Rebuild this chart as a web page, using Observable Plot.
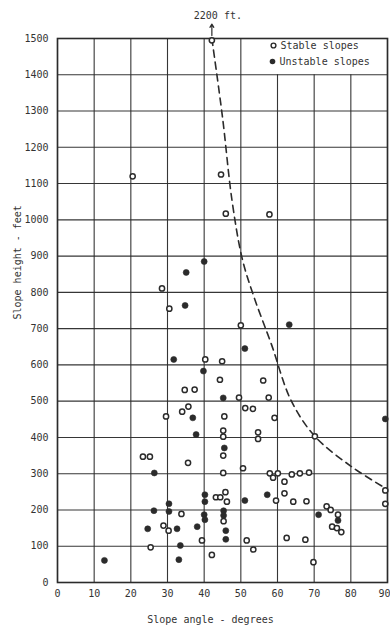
<!DOCTYPE html>
<html>
<head>
<meta charset="utf-8">
<script src="https://cdn.jsdelivr.net/npm/d3@7"></script>
<script src="https://cdn.jsdelivr.net/npm/@observablehq/plot@0.6"></script>
<style>
  html, body { margin: 0; padding: 0; background: #fff; overflow: hidden; }
  #chart svg { display: block; }
</style>
</head>
<body>
<div id="chart"></div>
<script>
// ---- data ----
const xTicks = [0, 10, 20, 30, 40, 50, 60, 70, 80, 90];
const yTicks = [0, 100, 200, 300, 400, 500, 600, 700, 800, 900, 1000, 1100, 1200, 1300, 1400, 1500];

const stableAngle = [20.5,42.1,44.6,45.9,57.8,28.5,30.5,50.0,40.3,44.9,44.3,56.1,34.7,37.4,49.5,57.6,51.2,53.3,59.2,54.7,54.7,70.2,29.6,34.0,35.7,45.5,45.2,45.2,23.3,25.2,35.6,25.4,28.9,30.3,33.8,45.2,45.2,50.6,43.2,44.4,45.8,46.2,45.3,39.4,42.1,51.6,53.4,57.9,58.8,60.1,63.9,66.1,68.6,61.9,59.6,61.9,64.3,67.9,73.4,74.5,76.5,74.9,76.2,77.4,62.5,67.6,69.8,89.4,89.4];
const stableHeight = [1120,1495,1125,1017,1015,811,755,709,615,610,559,557,531,532,510,510,481,479,454,414,396,403,458,471,485,458,419,402,347,347,330,97,157,143,189,350,302,315,235,235,249,223,169,116,76,116,91,301,289,301,298,301,303,278,226,246,223,224,210,200,187,154,150,139,123,118,56,254,217];

const unstableAngle = [40.0,35.1,34.8,63.2,51.1,31.7,39.8,45.2,36.9,37.8,45.5,89.4,26.4,26.3,24.6,12.8,30.4,30.4,32.6,33.5,33.1,38.1,40.2,40.2,51.1,40.0,40.2,45.3,45.3,45.9,45.9,57.2,71.2,76.5];
const unstableHeight = [885,855,764,711,645,615,583,509,454,408,371,451,302,198,148,61,217,196,148,102,63,154,242,223,226,187,173,198,185,143,119,242,187,171];

const curveAngle = [42.1,45.0,47.6,50.4,53.6,58.3,63.7,70.2,80.4,89.6];
const curveHeight = [1500,1283,1053,892,787,658,502,403,318,259];

const legendLabels = ["Stable slopes", "Unstable slopes"];
const xTitle = "Slope angle - degrees";
const yTitle = "Slope height - feet";
const noteLabel = "2200 ft.";
const noteAngle = 42.1;

// ---- build tables ----
const stable = stableAngle.map((a, i) => ({angle: a, height: stableHeight[i]}));
const unstable = unstableAngle.map((a, i) => ({angle: a, height: unstableHeight[i]}));
const curve = curveAngle.map((a, i) => ({angle: a, height: curveHeight[i]}));
const yMax = yTicks[yTicks.length - 1];
const yCell = yTicks[yTicks.length - 2];
const ink = "#2b2b2b";
const font = "'DejaVu Sans Mono', monospace";

// vertical grid lines: the ones right of 50° stop below the legend cell
const vGrid = xTicks.map(t => ({t, top: t > 50 && t < 90 ? yCell : yMax}));
const xTicksMain = xTicks.slice(0, -1);
const xTickLast = xTicks.slice(-1);

const chart = Plot.plot({
  width: 390,
  height: 633,
  marginLeft: 57,
  marginRight: 3,
  marginTop: 38,
  marginBottom: 51,
  x: {domain: [0, 90], label: null},
  y: {domain: [0, yMax], label: null},
  style: {fontFamily: font, fontSize: "10px", color: "#333", background: "#fff", overflow: "visible"},
  marks: [
    Plot.ruleX(vGrid, {x: "t", y1: 0, y2: "top", stroke: ink, strokeOpacity: 0.95, strokeWidth: 1.1}),
    Plot.gridY(yTicks, {stroke: ink, strokeOpacity: 0.95, strokeWidth: 1.1}),
    Plot.frame({stroke: ink, strokeWidth: 1.6}),
    Plot.axisX(xTicksMain, {tickSize: 0, tickPadding: 7, tickFormat: d => String(d), fontSize: 10}),
    Plot.axisX(xTickLast, {tickSize: 0, tickPadding: 7, tickFormat: d => String(d), fontSize: 10, dx: -3}),
    Plot.axisY(yTicks, {tickSize: 0, tickPadding: 9, tickFormat: d => String(d), fontSize: 10}),
    Plot.line(curve, {x: "angle", y: "height", stroke: ink, strokeWidth: 1.6, strokeDasharray: "7,5", curve: "catmull-rom"}),
    Plot.dot(stable, {x: "angle", y: "height", r: 2.6, stroke: ink, strokeWidth: 1.5, fill: "#fff"}),
    Plot.dot(unstable, {x: "angle", y: "height", r: 3, fill: ink, stroke: ink, strokeWidth: 0.6}),
    // legend
    Plot.dot([legendLabels[0]], {frameAnchor: "top-left", dx: 216, dy: 7, r: 2.4, stroke: ink, strokeWidth: 1.4, fill: "#fff"}),
    Plot.dot([legendLabels[1]], {frameAnchor: "top-left", dx: 215, dy: 23, r: 2.8, fill: ink}),
    Plot.text([legendLabels[0]], {frameAnchor: "top-left", text: d => d, dx: 223, dy: 7, textAnchor: "start", lineAnchor: "middle", fontSize: 10, fill: "#333"}),
    Plot.text([legendLabels[1]], {frameAnchor: "top-left", text: d => d, dx: 222, dy: 23, textAnchor: "start", lineAnchor: "middle", fontSize: 10, fill: "#333"}),
    // 2200 ft note
    Plot.arrow([noteLabel], {x1: () => noteAngle, x2: () => noteAngle, y1: () => yMax + 8, y2: () => yMax + 40, stroke: ink, strokeWidth: 1.2, headLength: 5}),
    Plot.text([noteLabel], {x: () => noteAngle, y: () => yMax, text: d => d, dy: -23, dx: 6, fontSize: 10, fill: "#333"}),
    // axis titles
    Plot.text([xTitle], {frameAnchor: "bottom", text: d => d, dx: -12, dy: 40, fontSize: 10, fill: "#333"}),
    Plot.text([yTitle], {frameAnchor: "left", text: d => d, rotate: -90, dx: -40, dy: 9, fontSize: 10, fill: "#333"})
  ]
});

document.getElementById("chart").appendChild(chart);
</script>
</body>
</html>
